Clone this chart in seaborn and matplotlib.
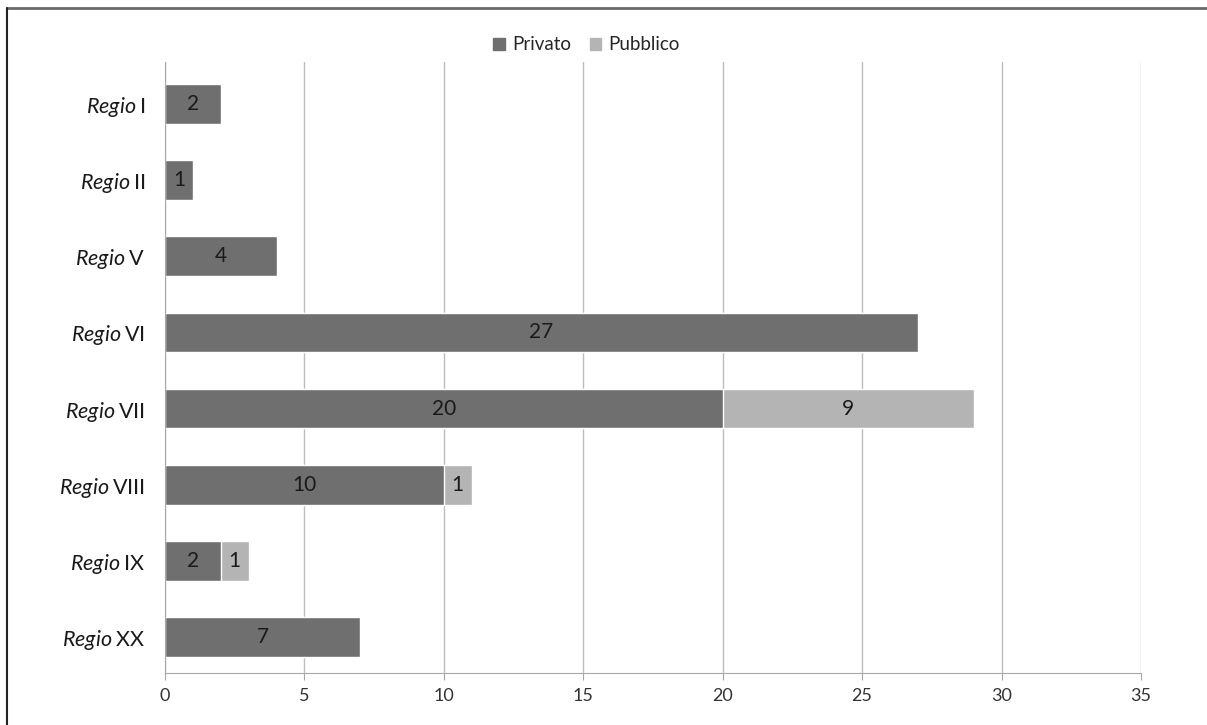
import seaborn as sns
import matplotlib.pyplot as plt
import pandas as pd
from matplotlib.patches import Patch
from matplotlib.lines import Line2D

regioni = ["I", "II", "V", "VI", "VII", "VIII", "IX", "XX"]
privato = [2, 1, 4, 27, 20, 10, 2, 7]
pubblico = [0, 0, 0, 0, 9, 1, 1, 0]

col_priv = "#6f6f6f"
col_pubb = "#b4b4b4"

sns.set_style("white")
plt.rcParams["font.family"] = ["Lato", "DejaVu Sans"]
plt.rcParams["mathtext.fontset"] = "custom"
plt.rcParams["mathtext.it"] = "Lato:italic"
plt.rcParams["mathtext.rm"] = "Lato"

labels = [r"$\mathit{Regio}\:$" + r for r in regioni]
df = pd.DataFrame({"regio": labels, "privato": privato, "pubblico": pubblico})
df["totale"] = df["privato"] + df["pubblico"]

fig = plt.figure(figsize=(12.07, 7.25), dpi=100)
ax = fig.add_axes([0.1367, 0.0717, 0.8086, 0.8428])

sns.barplot(data=df, y="regio", x="totale", color=col_pubb, saturation=1,
            width=0.52, ax=ax, orient="h")
sns.barplot(data=df, y="regio", x="privato", color=col_priv, saturation=1,
            width=0.52, ax=ax, orient="h")

# value labels
for i, (p, q) in enumerate(zip(privato, pubblico)):
    ax.text(p / 2, i, str(p), ha="center", va="center", fontsize=15, color="#1a1a1a")
    if q > 0:
        ax.text(p + q / 2, i, str(q), ha="center", va="center", fontsize=15, color="#1a1a1a")

ax.set_xlim(0, 35)
ax.set_ylim(7.47, -0.55)
ax.set_xticks(range(0, 36, 5))
ax.grid(axis="x", color="#bdbdbd", lw=1)
ax.set_axisbelow(True)
ax.set_xlabel("")
ax.set_ylabel("")
for s in ["top", "right"]:
    ax.spines[s].set_visible(False)
for s in ["left", "bottom"]:
    ax.spines[s].set_color("#a8a8a8")
ax.tick_params(axis="x", bottom=True, length=5, color="#a8a8a8", labelsize=13,
               labelcolor="#333333", pad=6)
ax.tick_params(axis="y", left=False, labelsize=15.5, labelcolor="#1a1a1a", pad=11)

handles = [Patch(color=col_priv, label="Privato"), Patch(color=col_pubb, label="Pubblico")]
fig.legend(handles=handles, loc="center", bbox_to_anchor=(0.486, 0.938), ncol=2,
           frameon=False, fontsize=13.5, handlelength=0.6, handleheight=0.6,
           handletextpad=0.4, columnspacing=1.0)

# frame lines around the figure
fig.add_artist(Line2D([0.006, 1.0], [0.989, 0.989], transform=fig.transFigure,
                      color="#6a6a6a", lw=2))
fig.add_artist(Line2D([0.006, 0.006], [0.0, 0.989], transform=fig.transFigure,
                      color="#222222", lw=1.5))

plt.savefig("out.png", dpi=100)
